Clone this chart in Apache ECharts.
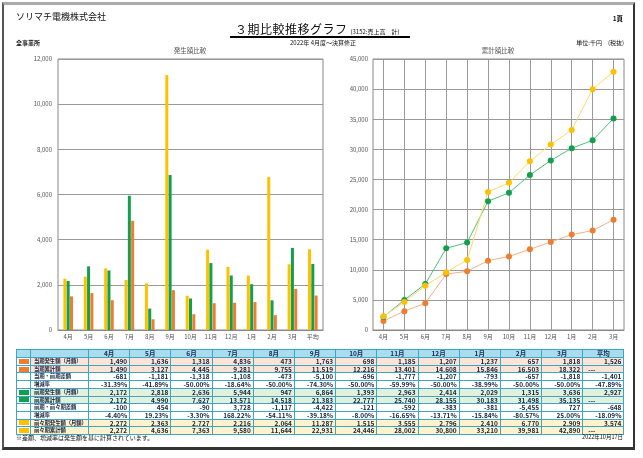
<!DOCTYPE html>
<html>
<head>
<meta charset="utf-8">
<script src="https://cdn.jsdelivr.net/npm/echarts@6/dist/echarts.min.js"></script>
<style>
  body { margin: 0; width: 643px; height: 458px; position: relative; overflow: hidden; background: #fff;
         font-family: "Noto Sans CJK JP", sans-serif; color: #111; }
  #frame { position: absolute; left: 2px; top: 2px; width: 633px; height: 448px; box-sizing: border-box;
           border-top: 3px solid #aaa; border-left: 2px solid #555; border-right: 2px solid #333; border-bottom: 3px solid #333; }
  #chart { position: absolute; left: 0; top: 0; width: 643px; height: 458px; }
  .t { position: absolute; white-space: nowrap; line-height: 1; }
  #tbl { position: absolute; left: 16px; top: 349px; border-collapse: collapse; table-layout: fixed; width: 608px; }
  #tbl td { border: 1px solid #3aa7c4; height: 6.7px; padding: 0 2px; font-size: 6.5px; line-height: 6.7px;
            font-weight: bold; color: #1b2440; text-align: right; overflow: hidden; white-space: nowrap; }
  #tbl tr.head td { background: #a9dcec; text-align: center; height: 7px; color: #1b2a55; }
  #tbl td.lab { text-align: left; padding-left: 3px; font-size: 5.4px; letter-spacing: -0.1px; }
  #tbl td.mk { padding: 0 2px; }
  .mkbox { display: block; width: 10px; height: 5px; }
</style>
</head>
<body>
<div id="frame"></div>
<div id="chart"></div>

<div class="t" style="left:16px;top:12px;font-size:9px;">ソリマチ電機株式会社</div>
<div class="t" style="right:20px;top:15px;font-size:6.5px;font-weight:bold;">1頁</div>
<div class="t" style="left:235px;top:23px;font-size:12px;letter-spacing:0.5px;">３期比較推移グラフ<span style="font-size:6px;letter-spacing:0;margin-left:3px;">(3152:売上高　計)</span></div>
<div style="position:absolute;left:230px;top:36px;width:180px;height:1.5px;background:#000;"></div>
<div class="t" style="left:16px;top:40px;font-size:6px;font-weight:bold;">全事業所</div>
<div class="t" style="left:290px;top:40px;font-size:6px;">2022年 4月度～決算修正</div>
<div class="t" style="right:19px;top:40px;font-size:6px;">単位:千円　(税抜)</div>

<table id="tbl"></table>

<div class="t" style="left:16px;top:435px;font-size:6px;">※差額、増減率は発生額を基に計算されています。</div>
<div class="t" style="right:20px;top:435px;font-size:5.5px;">2022年10月17日</div>

<script>
// 月・カテゴリ
const months = ['4月', '5月', '6月', '7月', '8月', '9月', '10月', '11月', '12月', '1月', '2月', '3月'];
const avgLabel = '平均';

// 当期
const curMonthly = [1490, 1636, 1318, 4836, 473, 1763, 698, 1185, 1207, 1237, 657, 1818, 1526];
const curCum = [1490, 3127, 4445, 9281, 9755, 11519, 12216, 13401, 14608, 15846, 16503, 18322];
const curDiff = [-681, -1181, -1318, -1108, -473, -5100, -696, -1777, -1207, -793, -657, -1818, -1401];
const curRate = [-31.39, -41.89, -50.00, -18.64, -50.00, -74.30, -50.00, -59.99, -50.00, -38.99, -50.00, -50.00, -47.89];

// 前期
const prevMonthly = [2172, 2818, 2636, 5944, 947, 6864, 1393, 2963, 2414, 2029, 1315, 3636, 2927];
const prevCum = [2172, 4990, 7627, 13571, 14518, 21383, 22777, 25740, 28155, 30183, 31498, 35135];
const prevDiff = [-100, 454, -90, 3728, -1117, -4422, -121, -592, -383, -381, -5455, 727, -648];
const prevRate = [-4.40, 19.23, -3.30, 168.22, -54.11, -39.18, -8.00, -16.65, -13.71, -15.84, -80.57, 25.00, -18.09];

// 前々期
const prev2Monthly = [2272, 2363, 2727, 2216, 2064, 11287, 1515, 3555, 2796, 2410, 6770, 2909, 3574];
const prev2Cum = [2272, 4636, 7363, 9580, 11644, 22931, 24446, 28002, 30800, 33210, 39981, 42890];

const ORANGE = '#ed7d31';
const GREEN = '#12a04c';
const YELLOW = '#ffc000';

const fmt = v => v.toLocaleString('en-US');
const pct = v => v.toFixed(2) + '%';

// ---- 表 ----
const rows = [
  { label: '当期発生額（月額）', mark: ORANGE, bg: '#fbe4d6', vals: curMonthly.map(fmt) },
  { label: '当期累計額', mark: ORANGE, bg: '#fbe4d6', vals: curCum.map(fmt).concat('---') },
  { label: '当期・前期差額', bg: '#fff', vals: curDiff.map(fmt) },
  { label: '増減率', bg: '#fff', vals: curRate.map(pct) },
  { label: '前期発生額（月額）', mark: GREEN, bg: '#e3f0dc', vals: prevMonthly.map(fmt) },
  { label: '前期累計額', mark: GREEN, bg: '#e3f0dc', vals: prevCum.map(fmt).concat('---') },
  { label: '前期・前々期差額', bg: '#fff', vals: prevDiff.map(fmt) },
  { label: '増減率', bg: '#fff', vals: prevRate.map(pct) },
  { label: '前々期発生額（月額）', mark: YELLOW, bg: '#fff2cc', vals: prev2Monthly.map(fmt) },
  { label: '前々期累計額', mark: YELLOW, bg: '#fff2cc', vals: prev2Cum.map(fmt).concat('---') }
];

let html = '<colgroup><col style="width:14px"><col style="width:58px">';
months.concat(avgLabel).forEach(() => { html += '<col style="width:41.2px">'; });
html += '</colgroup>';
html += '<tr class="head"><td></td><td></td>' + months.concat(avgLabel).map(m => '<td>' + m + '</td>').join('') + '</tr>';
rows.forEach(r => {
  const mk = r.mark ? '<span class="mkbox" style="background:' + r.mark + '"></span>' : '';
  html += '<tr style="background:' + r.bg + '">';
  html += '<td class="mk" style="background:#fff">' + mk + '</td>';
  html += '<td class="lab">' + r.label + '</td>';
  html += r.vals.map(v => '<td' + (v === '---' ? ' style="text-align:left;padding-left:5px"' : '') + '>' + v + '</td>').join('');
  html += '</tr>';
});
document.getElementById('tbl').innerHTML = html;

// ---- グラフ ----
const chart = echarts.init(document.getElementById('chart'));

const axisLabelStyle = { fontSize: 6, color: '#555', fontFamily: 'Noto Sans CJK JP' };

const option = {
  animation: false,
  graphic: [
    { type: 'text', x: 190, y: 51, style: { text: '発生額比較', textAlign: 'center', textVerticalAlign: 'middle', fontSize: 6.5, fill: '#555', fontFamily: 'Noto Sans CJK JP' } },
    { type: 'text', x: 498, y: 51, style: { text: '累計額比較', textAlign: 'center', textVerticalAlign: 'middle', fontSize: 6.5, fill: '#555', fontFamily: 'Noto Sans CJK JP' } }
  ],
  grid: [
    { left: 58, top: 59, width: 265, height: 271, show: true, borderColor: '#888', borderWidth: 1 },
    { left: 373, top: 59, width: 251, height: 271, show: true, borderColor: '#888', borderWidth: 1 }
  ],
  xAxis: [
    {
      type: 'category', gridIndex: 0, data: months.concat(avgLabel),
      axisLine: { lineStyle: { color: '#888' } },
      axisTick: { show: false },
      axisLabel: Object.assign({ margin: 4, interval: 0 }, axisLabelStyle)
    },
    {
      type: 'category', gridIndex: 1, data: months,
      axisLine: { lineStyle: { color: '#888' } },
      axisTick: { show: false, alignWithLabel: true },
      axisLabel: Object.assign({ margin: 4, interval: 0 }, axisLabelStyle),
      splitLine: { show: true, alignWithLabel: true, lineStyle: { color: '#999' } }
    }
  ],
  yAxis: [
    {
      type: 'value', gridIndex: 0, min: 0, max: 12000, interval: 2000,
      axisLine: { show: false }, axisTick: { show: false },
      axisLabel: Object.assign({ margin: 6, formatter: v => fmt(v) }, axisLabelStyle),
      splitLine: { lineStyle: { color: '#999' } }
    },
    {
      type: 'value', gridIndex: 1, min: 0, max: 45000, interval: 5000,
      axisLine: { show: false }, axisTick: { show: false },
      axisLabel: Object.assign({ margin: 5, formatter: v => fmt(v) }, axisLabelStyle),
      splitLine: { lineStyle: { color: '#999' } }
    }
  ],
  series: [
    { name: '前々期', type: 'bar', xAxisIndex: 0, yAxisIndex: 0, data: prev2Monthly, barWidth: 3, barGap: '10%', itemStyle: { color: YELLOW } },
    { name: '前期', type: 'bar', xAxisIndex: 0, yAxisIndex: 0, data: prevMonthly, barWidth: 3, barGap: '10%', itemStyle: { color: GREEN } },
    { name: '当期', type: 'bar', xAxisIndex: 0, yAxisIndex: 0, data: curMonthly, barWidth: 3, barGap: '10%', itemStyle: { color: ORANGE } },

    { name: '当期累計', type: 'line', xAxisIndex: 1, yAxisIndex: 1, data: curCum, symbol: 'circle', symbolSize: 6,
      lineStyle: { width: 1, color: '#f4b183' }, itemStyle: { color: ORANGE } },
    { name: '前期累計', type: 'line', xAxisIndex: 1, yAxisIndex: 1, data: prevCum, symbol: 'circle', symbolSize: 6,
      lineStyle: { width: 1, color: '#4cbf7a' }, itemStyle: { color: GREEN } },
    { name: '前々期累計', type: 'line', xAxisIndex: 1, yAxisIndex: 1, data: prev2Cum, symbol: 'circle', symbolSize: 6,
      lineStyle: { width: 1, color: '#ffd966' }, itemStyle: { color: YELLOW } }
  ]
};

chart.setOption(option);
</script>
</body>
</html>
